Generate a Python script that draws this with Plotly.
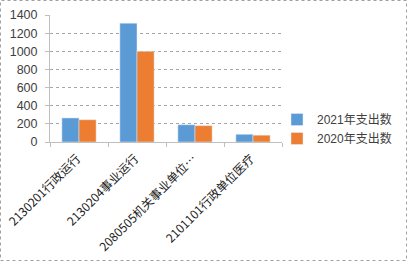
import plotly.graph_objects as go

categories = ["2130201行政运行", "2130204事业运行", "2080505机关事业单位…", "2101101行政单位医疗"]
series_2021 = [265, 1310, 190, 85]
series_2020 = [245, 1000, 180, 75]
name_2021 = "2021年支出数"
name_2020 = "2020年支出数"
y_ticks = [0, 200, 400, 600, 800, 1000, 1200, 1400]

W, H = 408, 262
L, R, T, B = 50, 126, 15, 120
pw, ph = W - L - R, H - T - B

fig = go.Figure()
fig.add_trace(go.Bar(x=categories, y=series_2021, name=name_2021, marker_color="#5B9BD5"))
fig.add_trace(go.Bar(x=categories, y=series_2020, name=name_2020, marker_color="#ED7D31"))

fig.update_layout(
    width=W, height=H,
    margin=dict(l=L, r=R, t=T, b=B, pad=0, autoexpand=False),
    paper_bgcolor="white", plot_bgcolor="white",
    barmode="group", bargap=0.41, bargroupgap=0,
    font=dict(family="Liberation Sans, Arial, sans-serif", color="#404040", size=12),
    legend=dict(x=(277 - L) / pw, y=1 - (129 - T) / ph, xanchor="left", yanchor="middle",
                font=dict(size=12, color="#404040", family="Liberation Sans, Noto Sans CJK SC"),
                itemwidth=30, tracegroupgap=10, bgcolor="rgba(0,0,0,0)"),
    showlegend=True,
)
fig.update_yaxes(range=[0, 1400], tickvals=y_ticks, showgrid=True, gridcolor="#A6A6A6",
                 griddash="dot", gridwidth=1, showline=True, linecolor="#BFBFBF",
                 ticks="outside", ticklen=4, tickcolor="#BFBFBF", zeroline=False,
                 tickfont=dict(size=12.5, color="#404040"), ticklabelstandoff=5,
                 automargin=False)
fig.update_xaxes(showline=True, linecolor="#BFBFBF", ticks="outside", ticklen=4,
                 tickcolor="#BFBFBF", tickson="boundaries", tickangle=-45,
                 tickfont=dict(size=12, color="#1a1a1a", family="Noto Sans CJK SC"),
                 ticklabelshift=-2, ticklabelstandoff=4,
                 automargin=False)

fig.add_shape(type="rect", xref="paper", yref="paper",
              x0=-(L - 0.5) / pw, x1=(W - L - 1.5) / pw,
              y0=-(B - 1.5) / ph, y1=1 + (T - 0.5) / ph,
              line=dict(color="#A0A0A0", width=1, dash="dot"), fillcolor="rgba(0,0,0,0)")

fig.write_html("out.html")
